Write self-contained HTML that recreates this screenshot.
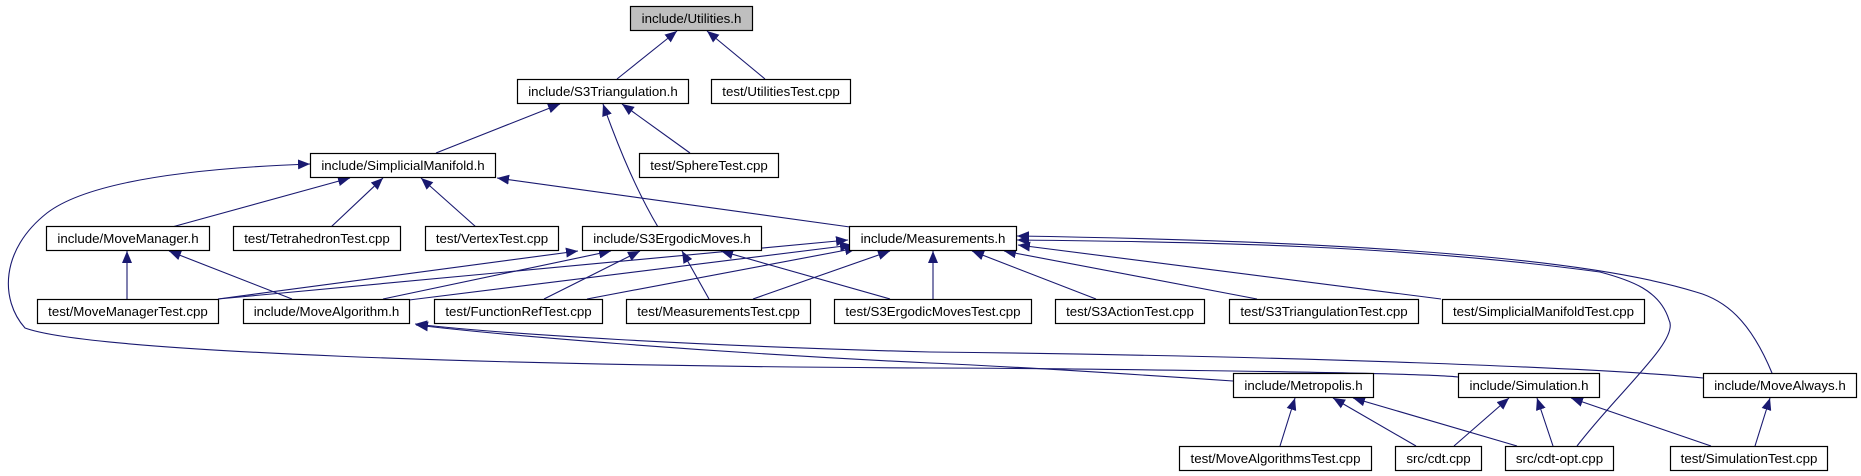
<!DOCTYPE html>
<html><head><meta charset="utf-8"><style>
html,body{margin:0;padding:0;background:#fff;}
svg{display:block;}
text{font-family:"Liberation Sans",Arial,sans-serif;font-size:13.3px;fill:#000;}
.e{fill:none;stroke:#191970;stroke-width:1.1;}
rect{fill:#fff;stroke:#000;stroke-width:1.2;}
</style></head><body>
<svg width="1861" height="476" viewBox="0 0 1861 476" xmlns="http://www.w3.org/2000/svg">
<defs>
<marker id="a" viewBox="0 0 12 10" refX="12" refY="5" markerWidth="12" markerHeight="10" markerUnits="userSpaceOnUse" orient="auto">
<path d="M0,0 L12,5 L0,10 Z" fill="#191970"/>
</marker>
</defs>
<g class="edges">
<path class="e" marker-end="url(#a)" d="M617,79 L677,31"/>
<path class="e" marker-end="url(#a)" d="M765,79 L707,31"/>
<path class="e" marker-end="url(#a)" d="M436,153 L560,104"/>
<path class="e" marker-end="url(#a)" d="M658,227 Q630,180 603,104"/>
<path class="e" marker-end="url(#a)" d="M690,153 L622,104"/>
<path class="e" marker-end="url(#a)" d="M172,227 L350,178"/>
<path class="e" marker-end="url(#a)" d="M331,227 L383,178"/>
<path class="e" marker-end="url(#a)" d="M476,227 L421,178"/>
<path class="e" marker-end="url(#a)" d="M850,227 L497,178"/>
<path class="e" marker-end="url(#a)" d="M1458,377 C1420,372 1000,368 930,368 C500,366 90,352 25,328 C0,300 0,250 47,213 C90,180 200,168 310,164"/>
<path class="e" marker-end="url(#a)" d="M1703,378 C1600,368 1300,356 930,352 C700,346 500,334 415,324"/>
<path class="e" marker-end="url(#a)" d="M1233,381 C1100,372 1000,366 930,363 C700,352 500,335 416,325"/>
<path class="e" marker-end="url(#a)" d="M127,299 L127,251"/>
<path class="e" marker-end="url(#a)" d="M292,299 L169,251"/>
<path class="e" marker-end="url(#a)" d="M218,299 L578,251"/>
<path class="e" marker-end="url(#a)" d="M218,299 L848,240"/>
<path class="e" marker-end="url(#a)" d="M383,299 L611,251"/>
<path class="e" marker-end="url(#a)" d="M409,300 L852,245"/>
<path class="e" marker-end="url(#a)" d="M544,299 L640,251"/>
<path class="e" marker-end="url(#a)" d="M587,299 L857,248"/>
<path class="e" marker-end="url(#a)" d="M709,299 L682,251"/>
<path class="e" marker-end="url(#a)" d="M753,299 L890,251"/>
<path class="e" marker-end="url(#a)" d="M890,299 L721,251"/>
<path class="e" marker-end="url(#a)" d="M933,299 L933,251"/>
<path class="e" marker-end="url(#a)" d="M1096,299 L972,251"/>
<path class="e" marker-end="url(#a)" d="M1257,299 L1004,251"/>
<path class="e" marker-end="url(#a)" d="M1441,299 L1018,245"/>
<path class="e" marker-end="url(#a)" d="M1577,446 C1620,390 1680,340 1669,320 C1660,290 1630,280 1600,272 C1400,245 1200,242 1017,240"/>
<path class="e" marker-end="url(#a)" d="M1772,373 C1750,320 1725,300 1696,292 C1600,262 1400,242 1017,236"/>
<path class="e" marker-end="url(#a)" d="M1280,446 L1295,398"/>
<path class="e" marker-end="url(#a)" d="M1416,446 L1333,398"/>
<path class="e" marker-end="url(#a)" d="M1517,446 L1353,398"/>
<path class="e" marker-end="url(#a)" d="M1454,446 L1509,398"/>
<path class="e" marker-end="url(#a)" d="M1553,446 L1537,398"/>
<path class="e" marker-end="url(#a)" d="M1711,446 L1571,398"/>
<path class="e" marker-end="url(#a)" d="M1755,446 L1770,398"/>
</g>
<g class="nodes" text-anchor="middle">
<rect x="630.5" y="6.5" width="122" height="24" style="fill:#bfbfbf"/><text x="691.5" y="23">include/Utilities.h</text>
<rect x="517.5" y="79.5" width="171" height="24"/><text x="603" y="96">include/S3Triangulation.h</text>
<rect x="711.5" y="79.5" width="139" height="24"/><text x="781" y="96">test/UtilitiesTest.cpp</text>
<rect x="310.5" y="153.5" width="185" height="24"/><text x="403" y="170">include/SimplicialManifold.h</text>
<rect x="639.5" y="153.5" width="139" height="24"/><text x="709" y="170">test/SphereTest.cpp</text>

<rect x="46.5" y="226.5" width="163" height="24"/><text x="128" y="243">include/MoveManager.h</text>
<rect x="233.5" y="226.5" width="167" height="24"/><text x="317" y="243">test/TetrahedronTest.cpp</text>
<rect x="425.5" y="226.5" width="133" height="24"/><text x="492" y="243">test/VertexTest.cpp</text>
<rect x="582.5" y="226.5" width="179" height="24"/><text x="672" y="243">include/S3ErgodicMoves.h</text>
<rect x="849.5" y="226.5" width="167" height="24"/><text x="933" y="243">include/Measurements.h</text>

<rect x="37.5" y="299.5" width="181" height="24"/><text x="128" y="316">test/MoveManagerTest.cpp</text>
<rect x="243.5" y="299.5" width="166" height="24"/><text x="326.5" y="316">include/MoveAlgorithm.h</text>
<rect x="434.5" y="299.5" width="168" height="24"/><text x="518.5" y="316">test/FunctionRefTest.cpp</text>
<rect x="626.5" y="299.5" width="184" height="24"/><text x="718.5" y="316">test/MeasurementsTest.cpp</text>
<rect x="834.5" y="299.5" width="197" height="24"/><text x="933" y="316">test/S3ErgodicMovesTest.cpp</text>
<rect x="1055.5" y="299.5" width="149" height="24"/><text x="1130" y="316">test/S3ActionTest.cpp</text>
<rect x="1229.5" y="299.5" width="189" height="24"/><text x="1324" y="316">test/S3TriangulationTest.cpp</text>
<rect x="1442.5" y="299.5" width="202" height="24"/><text x="1543.5" y="316">test/SimplicialManifoldTest.cpp</text>

<rect x="1233.5" y="373.5" width="140" height="24"/><text x="1303.5" y="390">include/Metropolis.h</text>
<rect x="1458.5" y="373.5" width="141" height="24"/><text x="1529" y="390">include/Simulation.h</text>
<rect x="1703.5" y="373.5" width="153" height="24"/><text x="1780" y="390">include/MoveAlways.h</text>

<rect x="1179.5" y="446.5" width="192" height="24"/><text x="1275.5" y="463">test/MoveAlgorithmsTest.cpp</text>
<rect x="1395.5" y="446.5" width="86" height="24"/><text x="1438.5" y="463">src/cdt.cpp</text>
<rect x="1505.5" y="446.5" width="108" height="24"/><text x="1559.5" y="463">src/cdt-opt.cpp</text>
<rect x="1670.5" y="446.5" width="157" height="24"/><text x="1749" y="463">test/SimulationTest.cpp</text>
</g>
</svg>
</body></html>
